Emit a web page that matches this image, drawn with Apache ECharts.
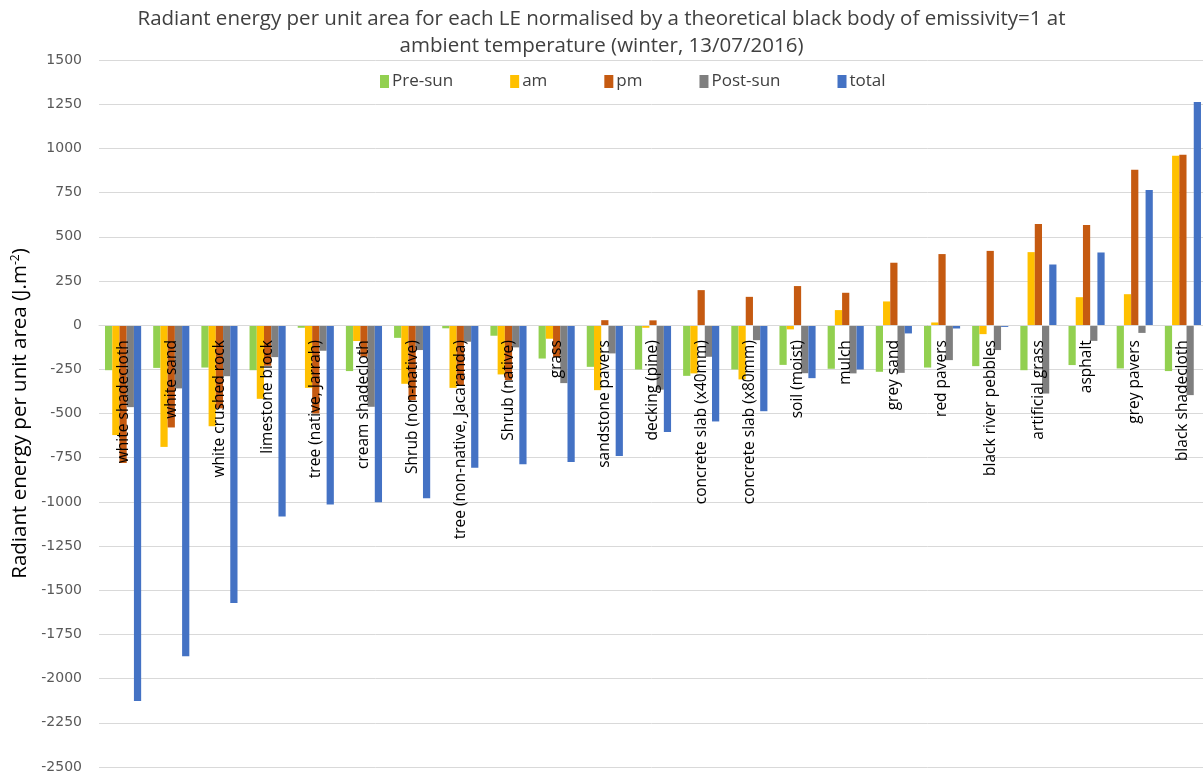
<!DOCTYPE html>
<html>
<head>
<meta charset="utf-8">
<script src="https://cdn.jsdelivr.net/npm/echarts@6/dist/echarts.min.js"></script>
<style>
html,body{margin:0;padding:0;background:#fff;}
#chart{width:1203px;height:780px;}
</style>
</head>
<body>
<div id="chart"></div>
<script>
var categories = ['white shadecloth','white sand','white crushed rock','limestone block','tree (native, Jarrah)','cream shadecloth','Shrub (non-native)','tree (non-native, Jacaranda)','Shrub (native)','grass','sandstone pavers','decking (pine)','concrete slab (x40mm)','concrete slab (x80mm)','soil (moist)','mulch','grey sand','red pavers','black river pebbles','artificial grass','asphalt','grey pavers','black shadecloth'];
var preSun  = [-255,-242,-240,-255,-15,-260,-72,-18,-60,-189,-236,-251,-287,-251,-225,-247,-264,-240,-232,-255,-226,-245,-260];
var am      = [-622,-689,-572,-417,-355,-90,-332,-355,-279,-77,-368,-15,-273,-307,-24,85,134,15,-51,413,158,175,958];
var pm      = [-780,-579,-471,-230,-500,-179,-424,-340,-311,-181,28,27,198,160,221,183,353,402,420,572,566,879,964];
var postSun = [-464,-358,-289,-181,-145,-462,-141,-94,-126,-328,-160,-365,-179,-85,-272,-273,-270,-198,-141,-387,-89,-44,-396];
var total   = [-2126,-1873,-1572,-1083,-1015,-1002,-979,-807,-787,-775,-740,-604,-545,-487,-300,-251,-47,-19,-10,343,411,764,1262];
var seriesNames = ['Pre-sun','am','pm','Post-sun','total'];
var colors = ['#92D050','#FFC000','#C55A11','#7F7F7F','#4472C4'];

var chart = echarts.init(document.getElementById('chart'));
var dataSets = [preSun, am, pm, postSun, total];
var font = "'Open Sans',sans-serif";
var yMin = -2500, yMax = 1500;
chart.setOption({
  animation: false,
  title: {
    text: 'Radiant energy per unit area for each LE normalised by a theoretical black body of emissivity=1 at\nambient temperature (winter, 13/07/2016)',
    left: 'center',
    top: 1,
    textStyle: {fontFamily: font, fontSize: 20.5, fontWeight: 'normal', color: '#404040', lineHeight: 27}
  },
  legend: {
    data: seriesNames,
    left: 380,
    top: 73,
    padding: 0,
    itemWidth: 9,
    itemHeight: 13,
    itemGap: 57,
    icon: 'rect',
    textStyle: {fontFamily: font, fontSize: 17, color: '#404040', padding: [0,0,0,-2]}
  },
  grid: {left: 99, right: -4, top: 60, bottom: 13, containLabel: false, outerBoundsMode: 'none'},
  xAxis: {
    type: 'category',
    data: categories,
    z: 10,
    position: 'bottom',
    offset: 0,
    axisLine: {show: true, onZero: false, lineStyle: {color: '#D9D9D9'}},
    axisTick: {show: false},
    axisLabel: {rotate: 90, margin: 15, interval: 0, fontFamily: font, fontSize: 15.5, color: '#000'}
  },
  yAxis: {
    type: 'value',
    min: yMin, max: yMax, interval: 250,
    name: '{a|Radiant energy per unit area (J.m}{s|-2}{a|)}',
    nameLocation: 'middle',
    nameGap: 66,
    nameTextStyle: {
      rich: {
        a: {fontFamily: font, fontSize: 20.5, color: '#000'},
        s: {fontFamily: font, fontSize: 12, color: '#000', verticalAlign: 'top', padding: [0,0,9,0]}
      }
    },
    axisLine: {show: false},
    axisTick: {show: false},
    axisLabel: {margin: 17, fontFamily: 'DejaVu Sans', fontSize: 14, color: '#595959', formatter: function(v){ return String(v); }},
    splitLine: {lineStyle: {color: '#D9D9D9', width: 1}}
  },
  series: seriesNames.map(function(n, i){
    return {
      name: n,
      type: 'bar',
      data: dataSets[i],
      barGap: '0%',
      barCategoryGap: '25%',
      itemStyle: {color: colors[i]}
    };
  })
});
// move the category axis (line + labels) onto the zero line
var zeroPx = chart.convertToPixel({yAxisIndex: 0}, 0);
var bottomPx = chart.convertToPixel({yAxisIndex: 0}, yMin);
chart.setOption({xAxis: {offset: zeroPx - bottomPx}});
</script>
</body>
</html>
